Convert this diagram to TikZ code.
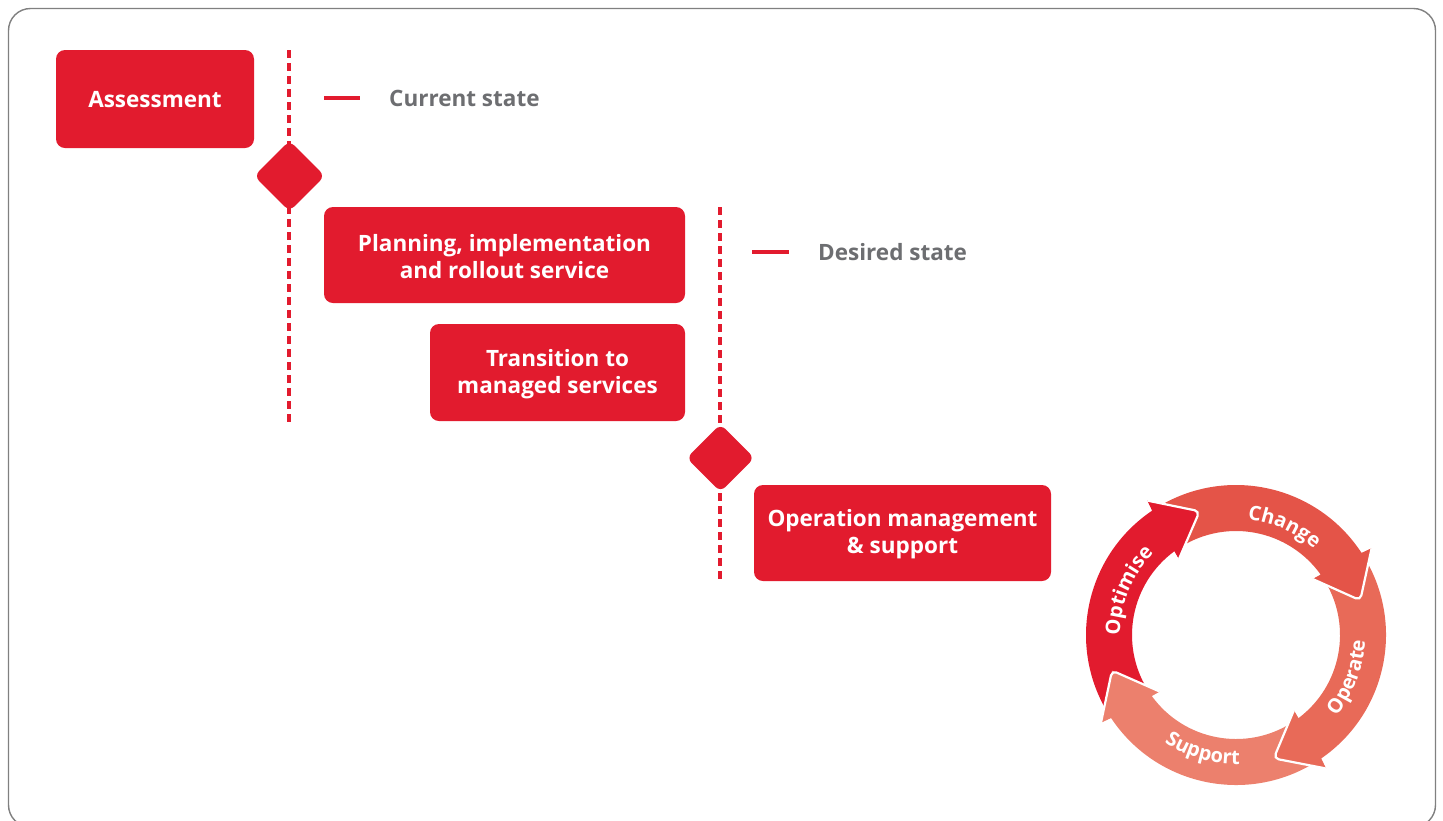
\documentclass[tikz,border=0pt]{standalone}
\usepackage{fontspec}
\setmainfont{Open Sans}
\usetikzlibrary{decorations.text}
\definecolor{brandred}{RGB}{226,27,46}
\definecolor{labelgray}{RGB}{109,110,113}
\definecolor{framegray}{RGB}{128,128,128}
\definecolor{changecol}{RGB}{228,84,72}
\definecolor{operatecol}{RGB}{232,106,88}
\definecolor{supportcol}{RGB}{236,128,109}
\newcommand\boxfont{\fontsize{22.5}{27}\selectfont\bfseries}
\newcommand\ringfont{\fontsize{20}{20}\selectfont\bfseries}
% ring arrow body: #1 colour, #2 tail angle, #3 head base angle
\newcommand\ringbody[3]{%
  \fill[#1] ([shift={(#2:150pt)}]C) arc[start angle=#2, end angle=#3+0.6, radius=150pt]
    -- ([shift={(#3:161pt)}]C) -- ([shift={(#3-17:129pt)}]C) -- ([shift={(#3+3.5:95pt)}]C)
    -- ([shift={(#3+2.9:104pt)}]C) arc[start angle=#3+2.9, end angle=#2, radius=104pt] -- cycle;}
\newcommand\ringhead[2]{%
  \draw[white, line width=2.2pt, fill=#1, rounded corners=5pt] ([shift={(#2:161pt)}]C)
    -- ([shift={(#2-17:129pt)}]C) -- ([shift={(#2+3.5:95pt)}]C);}
\begin{document}
\begin{tikzpicture}[x=1pt,y=1pt,
  redbox/.style={fill=brandred, rounded corners=9pt, inner sep=0pt},
  boxtext/.style={text=white, align=center, font=\boxfont, inner sep=0pt},
  milestone/.style={fill=brandred, rounded corners=7pt, rotate=45, inner sep=0pt},
  phaseline/.style={draw=brandred, line width=4pt, dash pattern=on 8pt off 5pt},
  legendline/.style={draw=brandred, line width=4pt},
  legendtext/.style={text=labelgray, font=\boxfont, anchor=west, inner sep=0pt},
  ringtext/.style={decorate, decoration={text along path, text={#1}, text align=center, text color=white}}
]
\useasboundingbox (0,0) rectangle (1443,-820);
\clip (0,0) rectangle (1443,-820);
% frame
\draw[framegray, line width=1.4pt, rounded corners=22pt] (8.5,-8.5) rectangle (1435.5,-827);

% phase lines
\coordinate (l1top) at (288.5,-50);
\coordinate (l1bot) at (288.5,-425);
\coordinate (l2top) at (719.5,-207);
\coordinate (l2bot) at (719.5,-582);
\draw[phaseline] (l1top) -- (l1bot);
\draw[phaseline] (l2top) -- (l2bot);

% milestones
\node[milestone, minimum size=50pt] (m1) at (289.5,-176) {};
\node[milestone, minimum size=48pt] (m2) at (720.5,-458) {};

% boxes
\node[redbox, minimum width=198pt, minimum height=98pt] (assess) at (155,-99) {};
\node[redbox, minimum width=361pt, minimum height=96pt] (plan) at (504.5,-255) {};
\node[redbox, minimum width=255pt, minimum height=97pt] (trans) at (557.5,-372.5) {};
\node[redbox, minimum width=297pt, minimum height=96pt] (oper) at (902.5,-533) {};
\node[boxtext] (assesst) at ([yshift=-1pt]assess.center) {Assessment};
\node[boxtext] (plant) at ([yshift=-2pt]plan.center) {Planning, implementation\\and rollout service};
\node[boxtext] (transt) at ([yshift=-2pt]trans.center) {Transition to\\managed services};
\node[boxtext] (opert) at ([yshift=-1.5pt]oper.center) {Operation management\\\& support};

% legend
\coordinate (c1a) at (324,-98);
\coordinate (c1b) at (360,-98);
\draw[legendline] (c1a) -- (c1b);
\node[legendtext] (cur) at (389,-98) {Current state};
\coordinate (d1a) at (752,-252);
\coordinate (d1b) at (789,-252);
\draw[legendline] (d1a) -- (d1b);
\node[legendtext] (des) at (818,-252) {Desired state};

% cycle
\coordinate (C) at (1236,-635);
\ringbody{brandred}{211.5}{123.4}
\ringbody{changecol}{121.9}{32.6}
\ringbody{operatecol}{31.1}{-56}
\ringbody{supportcol}{-57.5}{-147}
\ringhead{brandred}{123.4}
\ringhead{changecol}{32.6}
\ringhead{operatecol}{-56}
\ringhead{supportcol}{-147}

\path[ringtext={|\ringfont|Change}] ([shift={(111:116pt)}]C) arc[start angle=111, end angle=21, radius=116pt];
\path[ringtext={|\ringfont|Optimise}] ([shift={(202.6:116pt)}]C) arc[start angle=202.6, end angle=112.6, radius=116pt];
\path[ringtext={|\ringfont|Operate}] ([shift={(-60.6:129pt)}]C) arc[start angle=-60.6, end angle=19.4, radius=129pt];
\path[ringtext={|\ringfont|Support}] ([shift={(-146:129pt)}]C) arc[start angle=-146, end angle=-66, radius=129pt];
\end{tikzpicture}
\end{document}
